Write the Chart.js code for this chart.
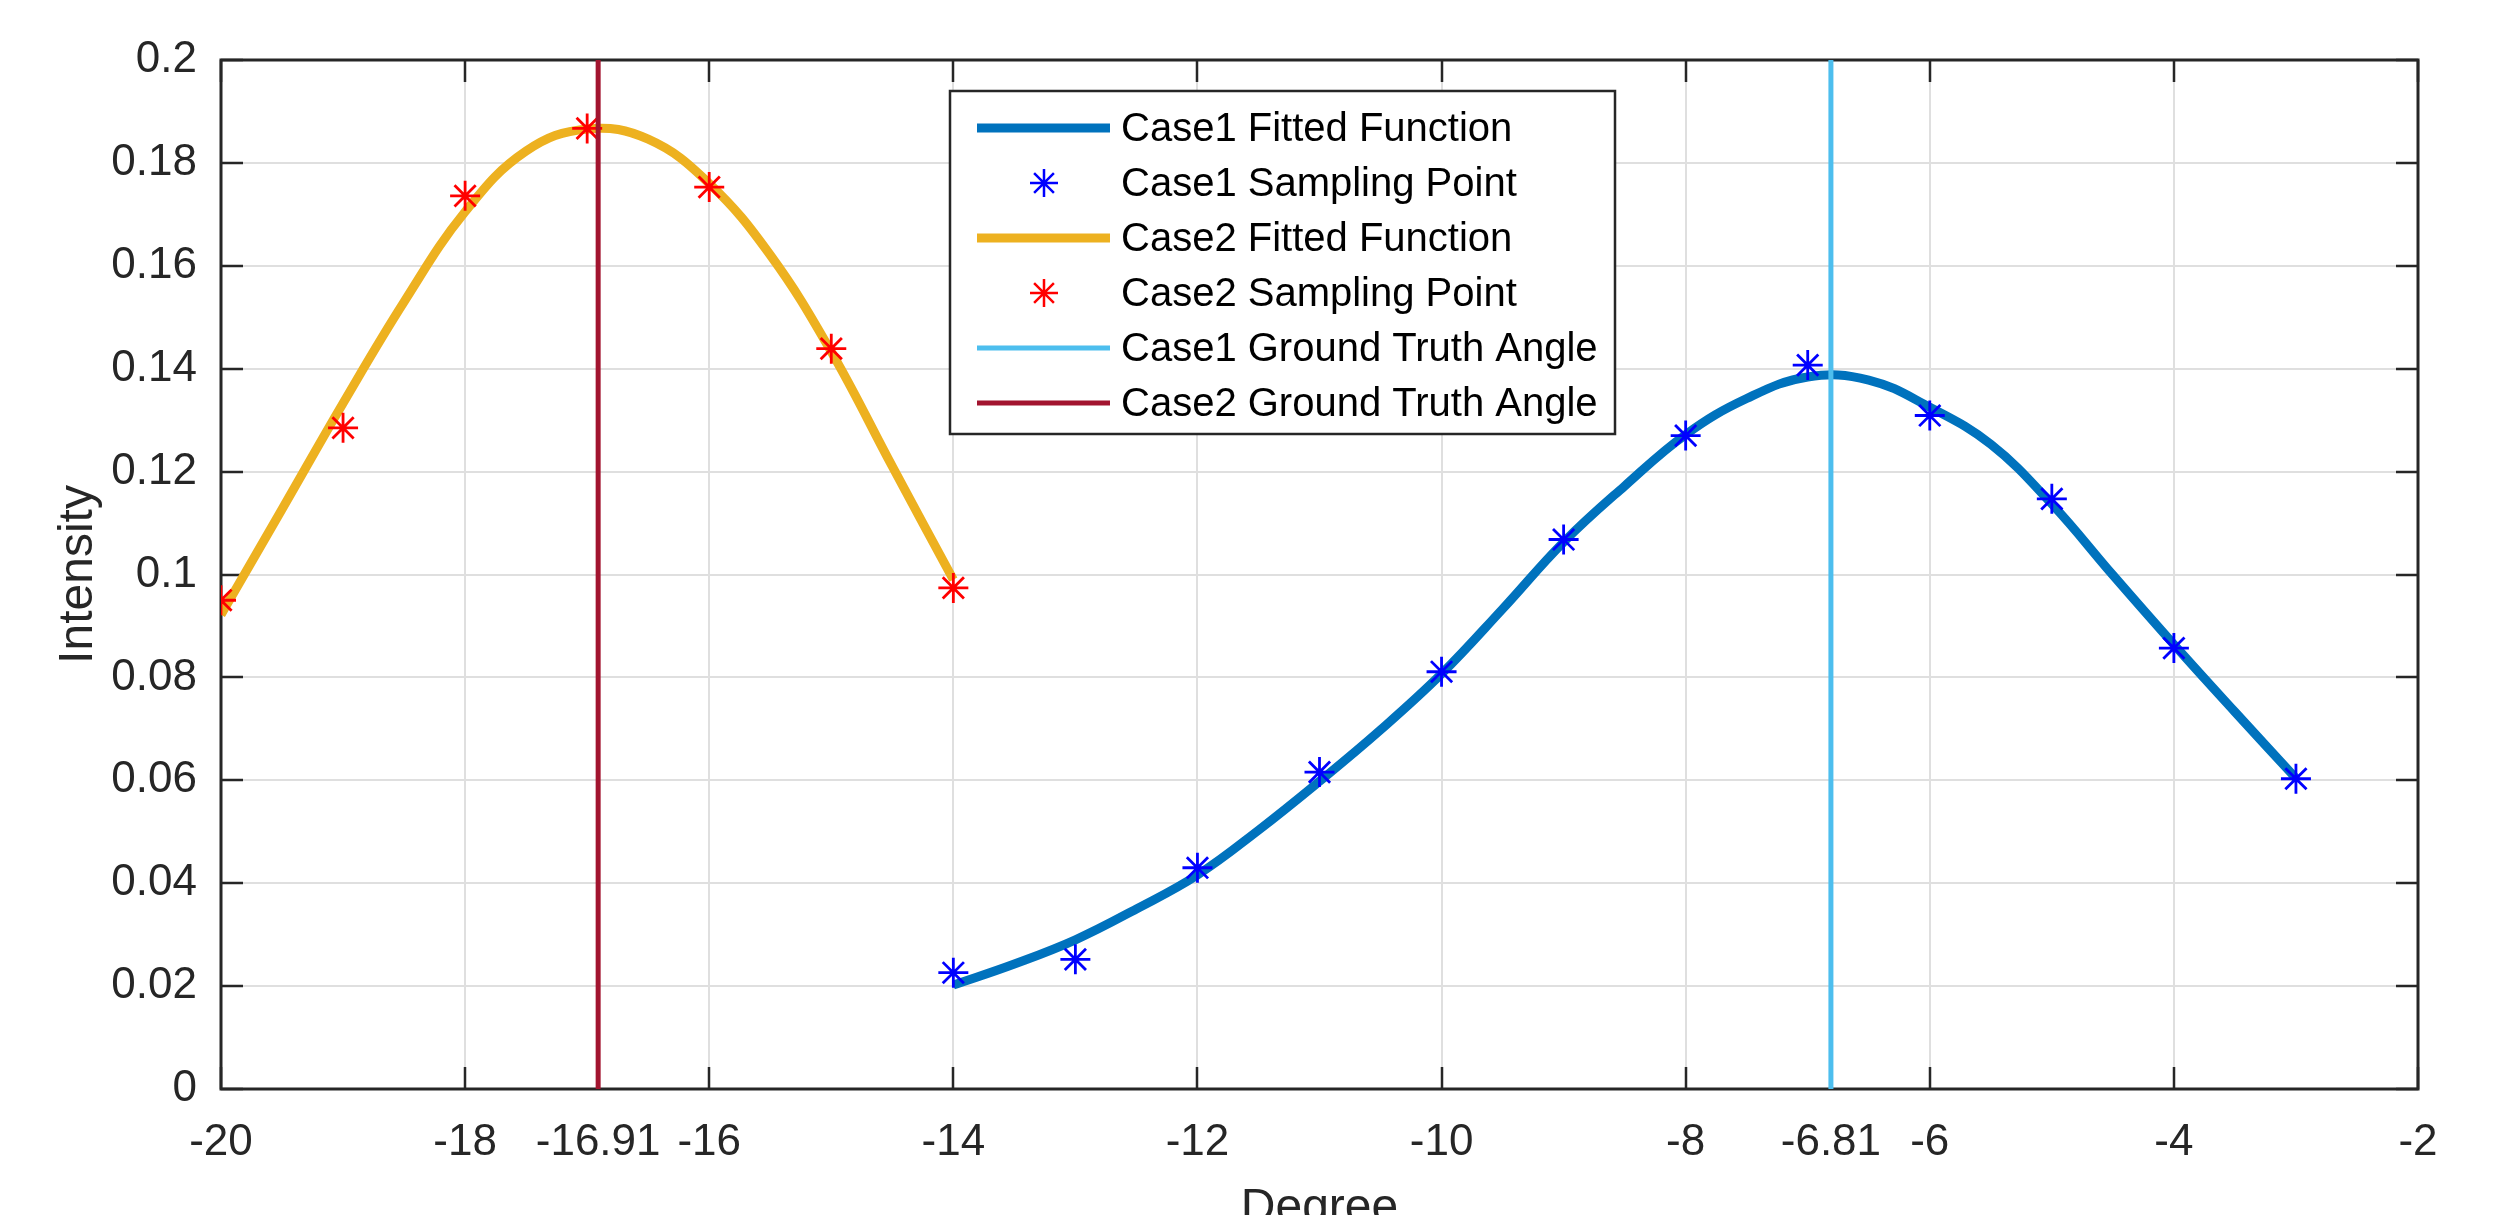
<!DOCTYPE html>
<html>
<head>
<meta charset="utf-8">
<script src="https://cdn.jsdelivr.net/npm/chart.js@4.4.1/dist/chart.umd.min.js"></script>
<style>
  html, body { margin: 0; padding: 0; background: #fff; overflow: hidden; }
  #wrap { width: 2493px; height: 1250px; }
</style>
</head>
<body>
<div id="wrap">
  <canvas id="grafico" width="2493" height="1250"></canvas>
</div>
<script>
  // valores
  var case1FitX = [-14, -13.5, -13, -12.5, -12, -11.5, -11, -10.5, -10, -9.5, -9, -8.5, -8, -7.5, -7, -6.5, -6, -5.5, -5, -4.5, -4, -3.5, -3];
  var case1FitY = [0.0202, 0.0243, 0.0290, 0.0350, 0.0416, 0.0503, 0.0598, 0.0698, 0.0807, 0.0933, 0.1063, 0.1172, 0.1272, 0.1342, 0.1384, 0.1378, 0.1325, 0.1253, 0.1137, 0.0999, 0.0864, 0.0733, 0.0604];
  var case1SampleX = [-14, -13, -12, -11, -10, -9, -8, -7, -6, -5, -4, -3];
  var case1SampleY = [0.0226, 0.0252, 0.0430, 0.0616, 0.0811, 0.1068, 0.1270, 0.1407, 0.1309, 0.1147, 0.0857, 0.0603];

  var case2FitX = [-20, -19.5, -19, -18.5, -18, -17.5, -17, -16.5, -16, -15.5, -15, -14.5, -14];
  var case2FitY = [0.0922, 0.1127, 0.1333, 0.1530, 0.1705, 0.1823, 0.1866, 0.1846, 0.1760, 0.1621, 0.1433, 0.1210, 0.0990];
  var case2SampleX = [-20, -19, -18, -17, -16, -15, -14];
  var case2SampleY = [0.0950, 0.1285, 0.1736, 0.1867, 0.1753, 0.1439, 0.0974];

  var groundTruth1 = -6.81;
  var groundTruth2 = -16.91;

  var xTicks = [-20, -18, -16.91, -16, -14, -12, -10, -8, -6.81, -6, -4, -2];
  var yTicks = [0, 0.02, 0.04, 0.06, 0.08, 0.1, 0.12, 0.14, 0.16, 0.18, 0.2];

  var fuente = '"Liberation Sans", Arial, sans-serif';

  function puntos(xs, ys) {
    return xs.map(function(x, i) { return {x: x, y: ys[i]}; });
  }
  function lineaVertical(x) {
    return [{x: x, y: yTicks[0]}, {x: x, y: yTicks[yTicks.length - 1]}];
  }

  // caja y marcas hacia dentro (estilo matlab)
  var marco = {
    id: 'marco',
    beforeDatasetsDraw: function(chart) {
      var ctx = chart.ctx, a = chart.chartArea;
      var sx = chart.scales.x, sy = chart.scales.y;
      var len = 22;
      ctx.save();
      ctx.strokeStyle = '#262626';
      ctx.lineWidth = 2.5;
      ctx.beginPath();
      xTicks.forEach(function(v) {
        var px = Math.round(sx.getPixelForValue(v));
        ctx.moveTo(px, a.bottom); ctx.lineTo(px, a.bottom - len);
        ctx.moveTo(px, a.top); ctx.lineTo(px, a.top + len);
      });
      yTicks.forEach(function(v) {
        var py = Math.round(sy.getPixelForValue(v));
        ctx.moveTo(a.left, py); ctx.lineTo(a.left + len, py);
        ctx.moveTo(a.right, py); ctx.lineTo(a.right - len, py);
      });
      ctx.stroke();
      ctx.lineWidth = 3;
      ctx.strokeRect(a.left, a.top, a.right - a.left, a.bottom - a.top);
      ctx.restore();
    }
  };

  // leyenda con borde, dentro del area
  var leyenda = {
    id: 'leyenda',
    afterDatasetsDraw: function(chart) {
      var ctx = chart.ctx;
      var bx = 950, by = 91, bw = 665, bh = 343;
      ctx.save();
      ctx.fillStyle = '#ffffff';
      ctx.fillRect(bx, by, bw, bh);
      ctx.strokeStyle = '#262626';
      ctx.lineWidth = 2.5;
      ctx.strokeRect(bx, by, bw, bh);
      chart.data.datasets.forEach(function(ds, i) {
        var cy = by + 37 + i * 55;
        if (ds.showLine === false) {
          ctx.strokeStyle = ds.pointBorderColor;
          ctx.fillStyle = ds.pointBorderColor;
          ctx.lineWidth = 2.5;
          Chart.helpers.drawPoint(ctx, {pointStyle: 'star', radius: 14, borderWidth: 2.5, rotation: 0}, 1044, cy);
        } else {
          ctx.strokeStyle = ds.borderColor;
          ctx.lineWidth = ds.borderWidth;
          ctx.beginPath();
          ctx.moveTo(977, cy); ctx.lineTo(1110, cy);
          ctx.stroke();
        }
        ctx.fillStyle = '#000000';
        ctx.font = '40px ' + fuente;
        ctx.textAlign = 'left';
        ctx.textBaseline = 'middle';
        ctx.fillText(ds.label, 1121, cy + 2);
      });
      ctx.restore();
    }
  };

  var ctx = document.getElementById('grafico').getContext('2d');
  var grafico = new Chart(ctx, {
    type: 'line',
    data: {
      datasets: [
        {
          label: 'Case1 Fitted Function',
          data: puntos(case1FitX, case1FitY),
          borderColor: '#0072BD',
          borderWidth: 9,
          pointRadius: 0,
          tension: 0.4,
          order: 3
        },
        {
          label: 'Case1 Sampling Point',
          data: puntos(case1SampleX, case1SampleY),
          showLine: false,
          pointStyle: 'star',
          pointRadius: 15,
          pointBorderWidth: 2.8,
          pointBorderColor: '#0000FF',
          pointBackgroundColor: '#0000FF',
          order: 2
        },
        {
          label: 'Case2 Fitted Function',
          data: puntos(case2FitX, case2FitY),
          borderColor: '#EDB120',
          borderWidth: 9,
          pointRadius: 0,
          tension: 0.4,
          order: 3
        },
        {
          label: 'Case2 Sampling Point',
          data: puntos(case2SampleX, case2SampleY),
          showLine: false,
          pointStyle: 'star',
          pointRadius: 15,
          pointBorderWidth: 2.8,
          pointBorderColor: '#FF0000',
          pointBackgroundColor: '#FF0000',
          order: 2
        },
        {
          label: 'Case1 Ground Truth Angle',
          data: lineaVertical(groundTruth1),
          borderColor: '#4DBEEE',
          borderWidth: 5,
          pointRadius: 0,
          order: 1
        },
        {
          label: 'Case2 Ground Truth Angle',
          data: lineaVertical(groundTruth2),
          borderColor: '#A2142F',
          borderWidth: 5,
          pointRadius: 0,
          order: 1
        }
      ]
    },
    options: {
      responsive: false,
      animation: false,
      devicePixelRatio: 1,
      layout: { padding: { top: 60, right: 75, left: 0, bottom: 0 } },
      plugins: {
        legend: { display: false },
        tooltip: { enabled: false }
      },
      scales: {
        x: {
          type: 'linear',
          min: -20,
          max: -2,
          afterBuildTicks: function(scale) {
            scale.ticks = xTicks.map(function(v) { return {value: v}; });
          },
          afterFit: function(scale) { scale.height = 161; },
          ticks: {
            autoSkip: false,
            maxRotation: 0,
            minRotation: 0,
            padding: 27,
            color: '#262626',
            font: { family: fuente, size: 44 },
            callback: function(v) { return String(v); }
          },
          grid: { color: '#dfdfdf', lineWidth: 2, drawTicks: false },
          border: { display: false },
          title: {
            display: true,
            text: 'Degree',
            color: '#262626',
            font: { family: fuente, size: 48 },
            padding: { top: 0, bottom: 12 }
          }
        },
        y: {
          type: 'linear',
          min: 0,
          max: 0.2,
          afterBuildTicks: function(scale) {
            scale.ticks = yTicks.map(function(v) { return {value: v}; });
          },
          afterFit: function(scale) { scale.width = 221; },
          ticks: {
            padding: 24,
            color: '#262626',
            font: { family: fuente, size: 44 },
            callback: function(v) { return String(Number(v.toFixed(2))); }
          },
          grid: { color: '#dfdfdf', lineWidth: 2, drawTicks: false },
          border: { display: false },
          title: {
            display: true,
            text: 'Intensity',
            color: '#262626',
            font: { family: fuente, size: 48 },
            padding: { top: 50, bottom: 0 }
          }
        }
      }
    },
    plugins: [marco, leyenda]
  });
</script>
</body>
</html>
